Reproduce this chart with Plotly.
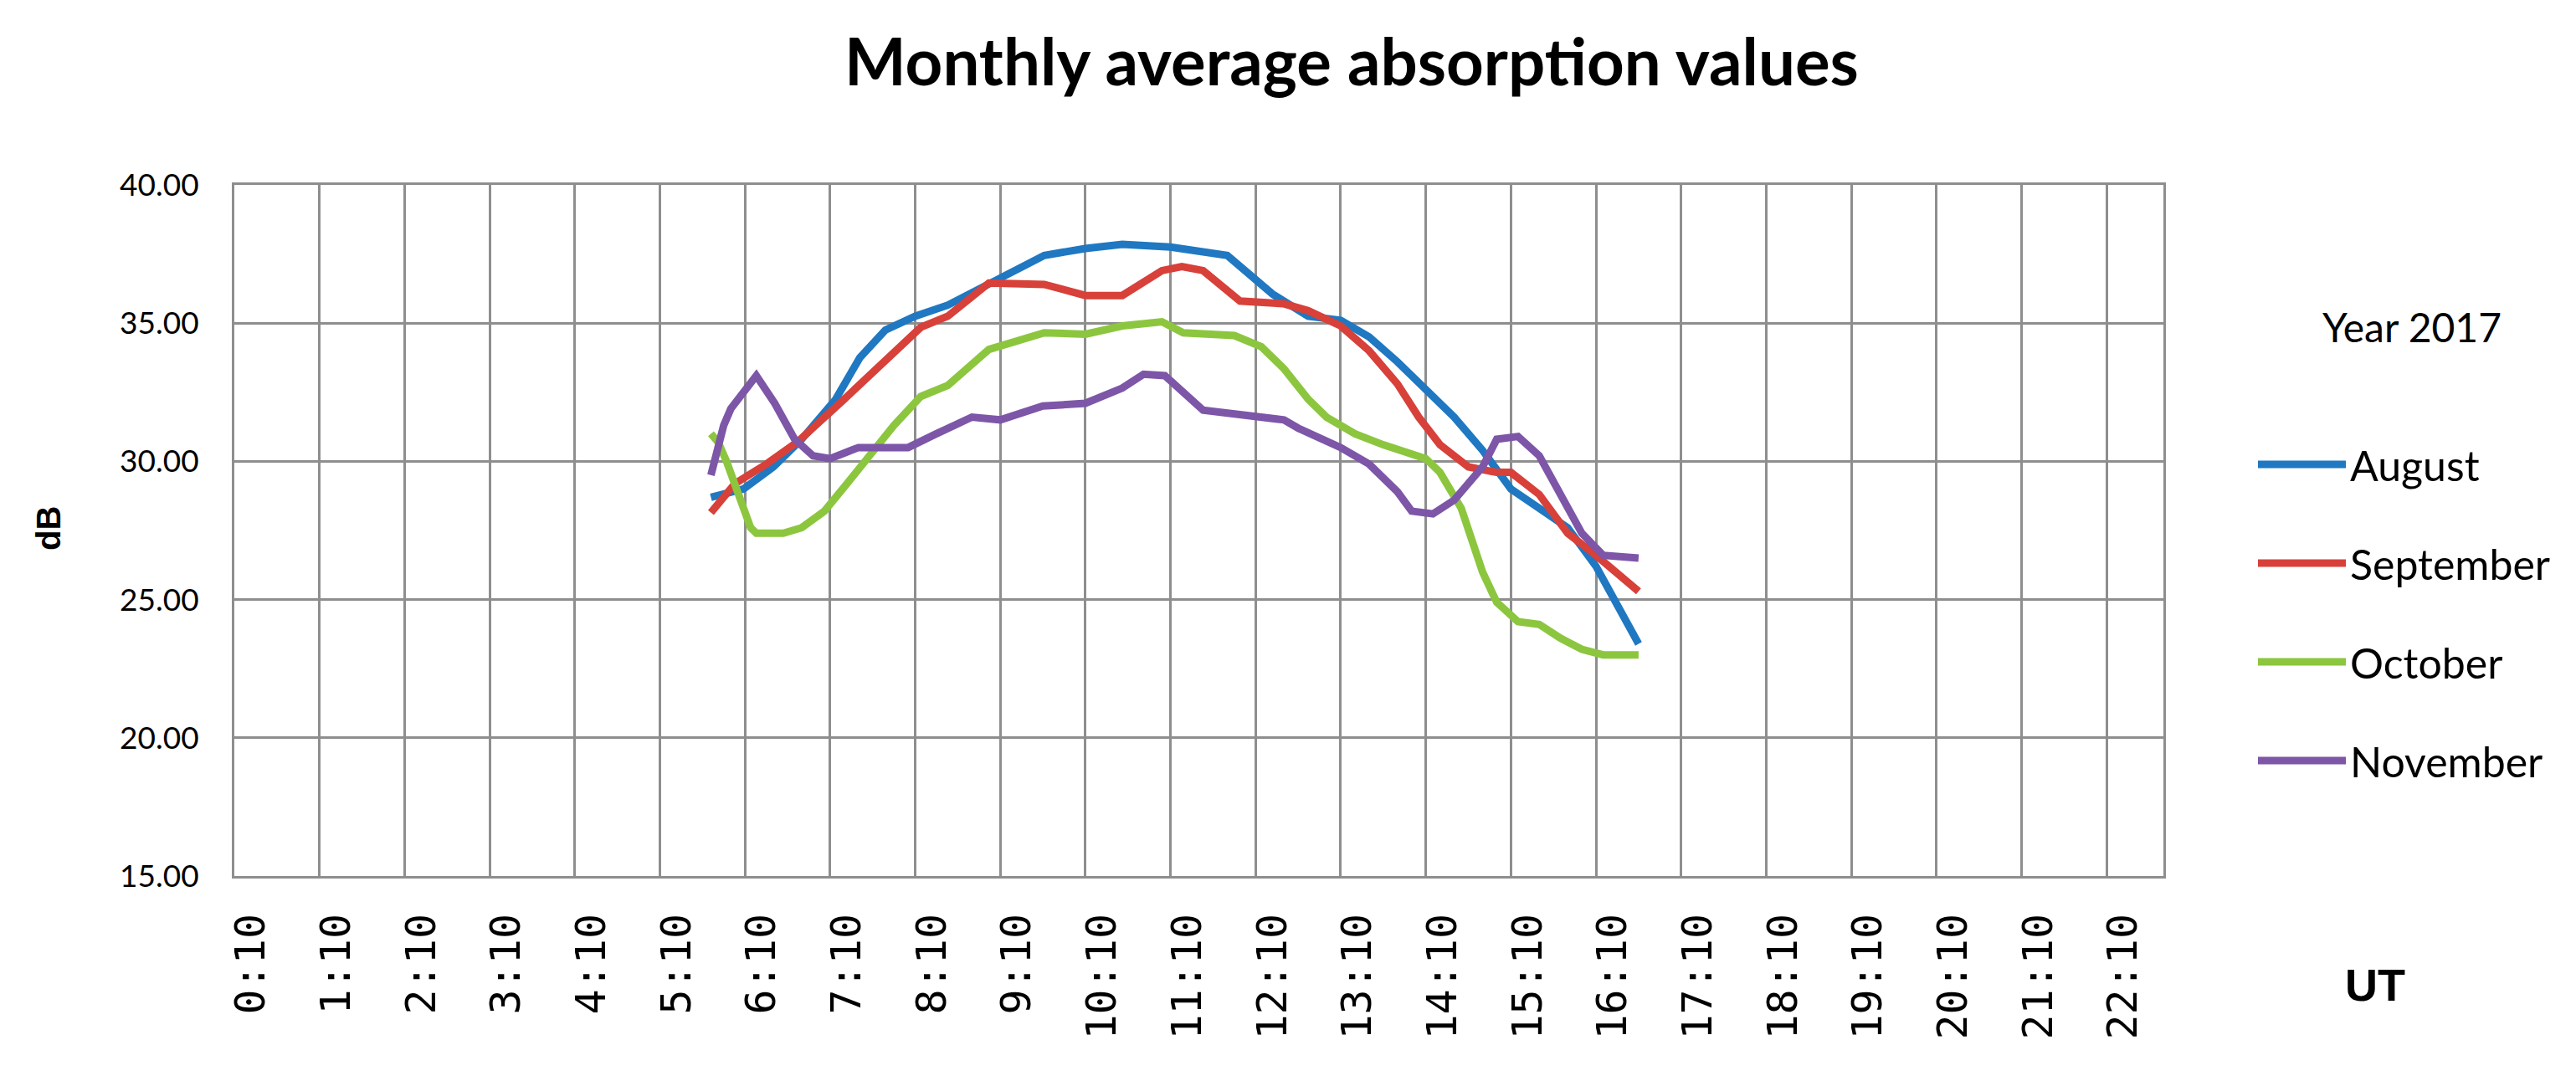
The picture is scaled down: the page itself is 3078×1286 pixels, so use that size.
import plotly.graph_objects as go

# ---------------- data ----------------
aug_t = ["5:46", "6:09", "6:30", "6:50", "7:14", "7:31", "7:49", "8:10", "8:33", "9:10", "9:41",
         "10:10", "10:36", "11:10", "11:50", "12:22", "12:47", "13:10", "13:30", "13:50", "14:10",
         "14:30", "14:50", "15:10", "15:30", "15:50", "16:10", "16:25", "16:40"]
aug_v = [28.7, 29.0, 29.8, 30.8, 32.25, 33.75, 34.75, 35.25, 35.65, 36.65, 37.45,
         37.7, 37.85, 37.75, 37.45, 36.05, 35.25, 35.1, 34.5, 33.6, 32.6,
         31.6, 30.4, 29.0, 28.3, 27.6, 26.2, 24.8, 23.4]

sep_t = ["5:46", "6:03", "6:25", "6:47", "7:20", "7:47", "8:14", "8:33", "9:02", "9:41", "10:10",
         "10:36", "11:04", "11:18", "11:33", "11:59", "12:30", "12:47", "13:10", "13:30", "13:50",
         "14:05", "14:20", "14:40", "15:00", "15:10", "15:30", "15:50", "16:10", "16:40"]
sep_v = [28.15, 29.2, 29.9, 30.7, 32.25, 33.55, 34.85, 35.25, 36.45, 36.4, 36.0,
         36.0, 36.9, 37.05, 36.9, 35.8, 35.7, 35.45, 34.9, 34.0, 32.8,
         31.6, 30.6, 29.8, 29.6, 29.6, 28.8, 27.4, 26.6, 25.3]

oct_t = ["5:46", "5:51", "5:57", "6:03", "6:14", "6:18", "6:37", "6:50", "7:06", "7:22", "7:41",
         "7:55", "8:14", "8:33", "9:02", "9:41", "10:10", "10:36", "11:04", "11:19", "11:55",
         "12:14", "12:30", "12:47", "13:00", "13:20", "13:40", "14:00", "14:10", "14:20", "14:35",
         "14:50", "15:00", "15:15", "15:30", "15:45", "16:00", "16:15", "16:40"]
oct_v = [31.0, 30.7, 30.0, 29.2, 27.6, 27.4, 27.4, 27.6, 28.2, 29.2, 30.4,
         31.3, 32.35, 32.75, 34.05, 34.65, 34.6, 34.9, 35.05, 34.65, 34.55,
         34.15, 33.35, 32.25, 31.6, 31.0, 30.6, 30.3, 30.1, 29.6, 28.3,
         26.0, 24.9, 24.2, 24.1, 23.6, 23.2, 23.0, 23.0]

nov_t = ["5:46", "5:55", "6:00", "6:18", "6:31", "6:45", "6:58", "7:10", "7:30", "8:05", "8:25",
         "8:50", "9:10", "9:40", "10:10", "10:36", "10:51", "11:06", "11:33", "12:01", "12:30",
         "12:40", "13:10", "13:30", "13:50", "14:00", "14:15", "14:30", "14:50", "15:00", "15:15",
         "15:30", "15:45", "16:00", "16:15", "16:40"]
nov_v = [29.5, 31.3, 31.9, 33.1, 32.1, 30.8, 30.2, 30.1, 30.5, 30.5, 31.0,
         31.6, 31.5, 32.0, 32.1, 32.65, 33.15, 33.1, 31.85, 31.65, 31.5,
         31.2, 30.5, 29.9, 28.9, 28.2, 28.1, 28.6, 29.8, 30.8, 30.9,
         30.2, 28.8, 27.4, 26.6, 26.5]

months = ["August", "September", "October", "November"]
colors = ["#1F78C1", "#D8403A", "#8CC63F", "#7D56A8"]
hours = list(range(0, 23))
tick_labels = [f"{h}:10" for h in hours]
y_ticks = [15, 20, 25, 30, 35, 40]

# ---------------- helpers ----------------
def to_hours(s):
    h, m = s.split(":")
    return int(h) + int(m) / 60.0

W, H = 3078, 1286
L, R, T, B = 272, 2577, 213, 1039

def px(x):
    return (x - L) / (R - L)

def py(y):
    return (B - y) / (B - T)

fig = go.Figure()
series = [(aug_t, aug_v), (sep_t, sep_v), (oct_t, oct_v), (nov_t, nov_v)]
for (ts, vs), name, col in zip(series, months, colors):
    fig.add_trace(go.Scatter(
        x=[to_hours(t) for t in ts], y=vs, mode="lines", name=name,
        legendgroup=name,
        line=dict(color=col, width=9),
    ))

grid_col = "#8E8E8E"
fig.update_layout(
    width=W, height=H,
    margin=dict(l=L, r=W - R, t=T, b=H - B),
    paper_bgcolor="white", plot_bgcolor="white",
    title=dict(text="<b>Monthly average absorption values</b>",
               font=dict(family="Lato", size=78, color="black"),
               x=1607 / W, xanchor="center", xref="container",
               y=1 - 67 / H, yanchor="middle", yref="container"),
    xaxis=dict(range=[10 / 60, 22 + 50 / 60],
               tickmode="array",
               tickvals=[h + 10 / 60 for h in hours],
               ticktext=tick_labels,
               tickangle=-90,
               tickfont=dict(family="DejaVu Sans Mono", size=50, color="black"),
               ticklabelshift=20, ticklabelstandoff=22,
               ticks="", showgrid=True, gridcolor=grid_col, gridwidth=3,
               showline=True, linecolor=grid_col, linewidth=3, mirror=True,
               zeroline=False, fixedrange=True),
    yaxis=dict(range=[15, 40], tickvals=y_ticks, tickformat=".2f",
               tickfont=dict(family="Lato", size=37, color="black"),
               ticklabelstandoff=32,
               ticks="", showgrid=True, gridcolor=grid_col, gridwidth=3,
               showline=True, linecolor=grid_col, linewidth=3, mirror=True,
               zeroline=False, fixedrange=True),
    legend=dict(x=px(2685), y=py(508), xanchor="left", yanchor="top",
                xref="paper", yref="paper",
                font=dict(family="Lato", size=50, color="black"),
                itemwidth=105, tracegroupgap=50, bgcolor="rgba(0,0,0,0)",
                traceorder="grouped"),
    showlegend=True,
)

fig.add_annotation(text="Year 2017", x=px(2874), y=py(382), xref="paper", yref="paper",
                   showarrow=False, font=dict(family="Lato", size=48, color="black"),
                   xanchor="center", yanchor="middle")
fig.add_annotation(text="<b>UT</b>", x=px(2830), y=py(1169), xref="paper", yref="paper",
                   showarrow=False, font=dict(family="Liberation Sans", size=54, color="black"),
                   xanchor="center", yanchor="middle")
fig.add_annotation(text="<b>dB</b>", x=px(50), y=py(624), xref="paper", yref="paper",
                   showarrow=False, textangle=-90,
                   font=dict(family="Liberation Sans", size=40, color="black"),
                   xanchor="center", yanchor="middle")

fig.write_html("out.html")
